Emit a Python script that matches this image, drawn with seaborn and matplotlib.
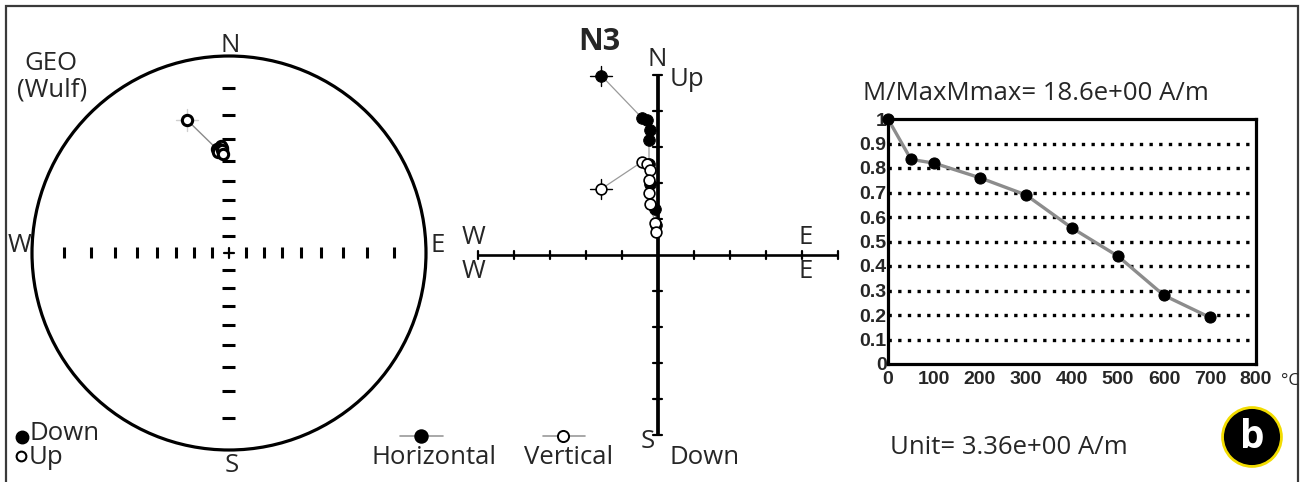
import numpy as np
import matplotlib
matplotlib.use("Agg")
import matplotlib.pyplot as plt
from matplotlib.patches import Circle, Rectangle
import pandas as pd
import seaborn as sns

# Thermal demagnetisation of specimen N3
steps = [0, 50, 100, 200, 300, 400, 500, 600, 700]                   # °C
m_norm = [1.0, 0.835, 0.82, 0.76, 0.69, 0.555, 0.44, 0.28, 0.19]     # M / Mmax
dec = [342.5, 353.4, 355.4, 356.4, 355.5, 354.4, 353.6, 356.3, 356.3]  # declination, deg
inc = [-19.4, -34.1, -34.0, -34.0, -33.0, -33.9, -35.5, -34.8, -36.5]  # inclination, deg
M_MAX = 18.6     # A/m
UNIT = 3.36      # A/m per Zijderveld tick

temp_ticks = [0, 100, 200, 300, 400, 500, 600, 700, 800]
ratio_ticks = [0, 0.1, 0.2, 0.3, 0.4, 0.5, 0.6, 0.7, 0.8, 0.9, 1.0]
ratio_labels = ["0", "0.1", "0.2", "0.3", "0.4", "0.5", "0.6", "0.7", "0.8", "0.9", "1"]

W, H = 1307, 482
sns.set_theme(style="white")
plt.rcParams["font.family"] = ["Open Sans", "DejaVu Sans"]

df = pd.DataFrame({"T": steps, "m": m_norm, "dec": dec, "inc": inc})
df["M"] = df["m"] * M_MAX
d, i = np.radians(df["dec"]), np.radians(df["inc"])
df["hor"] = df["M"] * np.cos(i)
df["east"] = df["hor"] * np.sin(d)
df["north"] = df["hor"] * np.cos(d)
df["up"] = -df["M"] * np.sin(i)
# Wulff (equal-angle) projection of the directions
r_w = np.tan(np.radians((90 - np.abs(df["inc"])) / 2))
df["sx"] = r_w * np.sin(d)
df["sy"] = r_w * np.cos(d)

fig = plt.figure(figsize=(W / 100, H / 100), dpi=100)
FS = 18.5


def px_axes(left, top, width, height, cx=None, cy=None, scale=None):
    ax = fig.add_axes([left / W, 1 - (top + height) / H, width / W, height / H])
    if scale is not None:
        ax.set_xlim((left - cx) / scale, (left + width - cx) / scale)
        ax.set_ylim((cy - (top + height)) / scale, (cy - top) / scale)
        ax.set_axis_off()
    return ax


def ftxt(x, y, s, **kw):
    kw.setdefault("fontsize", FS)
    kw.setdefault("ha", "center")
    kw.setdefault("va", "center")
    fig.text(x / W, 1 - y / H, s, **kw)


# ---------------- stereonet ----------------
R = 197.0
CX, CY = 229, 253
ax1 = px_axes(0, 20, 460, 462, CX, CY, R)
ax1.add_patch(Circle((0, 0), 1, fill=False, ec="black", lw=2.3))
tick_r = [np.tan(np.radians((90 - k) / 2)) for k in range(10, 90, 10)]
for r in tick_r:
    for sgn in (-1, 1):
        ax1.plot([sgn * r, sgn * r], [-5.5 / R, 5.5 / R], color="black", lw=2.2, solid_capstyle="butt")
        ax1.plot([-6.5 / R, 6.5 / R], [sgn * r, sgn * r], color="black", lw=2.2, solid_capstyle="butt")
ax1.plot([-5 / R, 5 / R], [0, 0], color="black", lw=1.6)
ax1.plot([0, 0], [-5 / R, 5 / R], color="black", lw=1.6)
ax1.plot(df["sx"], df["sy"], color="#8a8a8a", lw=1.0, zorder=2)
x0, y0 = df["sx"].iloc[0], df["sy"].iloc[0]
ax1.plot([x0 - 11 / R, x0 + 11 / R], [y0, y0], color="#cfcfcf", lw=1.0, zorder=2)
ax1.plot([x0, x0], [y0 - 11 / R, y0 + 11 / R], color="#cfcfcf", lw=1.0, zorder=2)
down = df[df["inc"] >= 0]
upw = df[df["inc"] < 0]
sns.scatterplot(x=upw["sx"], y=upw["sy"], ax=ax1, s=55, facecolor="white",
                edgecolor="black", linewidth=2.2, zorder=3)
if len(down):
    sns.scatterplot(x=down["sx"], y=down["sy"], ax=ax1, s=55, color="black", zorder=3)
ax1.set_xlim((0 - CX) / R, (460 - CX) / R)
ax1.set_ylim((CY - 482) / R, (CY - 20) / R)
ax1.set_aspect("equal", adjustable="box")

ftxt(230, 45, "N")
ftxt(232, 466, "S")
ftxt(19, 246, "W")
ftxt(438, 246, "E")
ftxt(51, 64, "GEO")
ftxt(52, 90, "(Wulf)")
# Down / Up key
fig.add_artist(plt.Line2D([22 / W], [1 - 437 / H], marker="o", ms=9, color="black", mfc="black"))
fig.add_artist(plt.Line2D([21 / W], [1 - 456 / H], marker="o", ms=7, color="black", mfc="white", mew=1.5))
ftxt(29, 434, "Down", ha="left")
ftxt(29, 458, "Up", ha="left")

# ---------------- Zijderveld diagram ----------------
S = 36.0 / UNIT   # px per A/m
ZX, ZY = 658, 255
ax2 = px_axes(460, 30, 400, 445, ZX, ZY, S)
ext = 5 * UNIT
ax2.plot([-ext, ext], [0, 0], color="black", lw=1.9, solid_capstyle="butt")
ax2.plot([0, 0], [-ext, ext], color="black", lw=2.7, solid_capstyle="butt")
for k in range(1, 6):
    for sgn in (-1, 1):
        v = sgn * k * UNIT
        ax2.plot([v, v], [-4 / S, 4 / S], color="black", lw=1.6)
        ax2.plot([-4.5 / S, 4.5 / S], [v, v], color="black", lw=1.6)

ax2.plot(df["east"], df["north"], color="#9a9a9a", lw=0.9, zorder=2)
ax2.plot(df["east"], df["up"], color="#9a9a9a", lw=0.9, zorder=2)
for yy in (df["north"].iloc[0], df["up"].iloc[0]):
    xx = df["east"].iloc[0]
    ax2.plot([xx - 11 / S, xx + 11 / S], [yy, yy], color="black", lw=1.0, zorder=2)
    ax2.plot([xx, xx], [yy - 10 / S, yy + 10 / S], color="black", lw=1.0, zorder=2)
sns.scatterplot(data=df, x="east", y="north", ax=ax2, s=70, color="black",
                edgecolor="black", zorder=3)
sns.scatterplot(data=df, x="east", y="up", ax=ax2, s=60, facecolor="white",
                edgecolor="black", linewidth=1.2, zorder=4)
ax2.set_xlim((460 - ZX) / S, (860 - ZX) / S)
ax2.set_ylim((ZY - 475) / S, (ZY - 30) / S)
ax2.set_xlabel("")
ax2.set_ylabel("")

ftxt(599, 42, "N3", fontweight="bold", fontsize=22)
ftxt(657, 59, "N")
ftxt(670, 80, "Up", ha="left")
ftxt(474, 238, "W")
ftxt(474, 271, "W")
ftxt(806, 238, "E")
ftxt(806, 271, "E")
ftxt(648, 441, "S")
ftxt(669, 458, "Down", ha="left")
# projection key
for x_l, x_r, xm, filled in ((400, 443, 421, True), (543, 585, 563, False)):
    fig.add_artist(plt.Line2D([x_l / W, x_r / W], [1 - 436 / H] * 2, color="#9a9a9a", lw=1.2))
    fig.add_artist(plt.Line2D([xm / W], [1 - 436 / H], marker="o", ms=9 if filled else 8,
                              color="black", mfc="black" if filled else "white", mew=1.4))
ftxt(434, 458, "Horizontal")
ftxt(569, 458, "Vertical")

# ---------------- intensity decay ----------------
ax3 = px_axes(888, 119, 368, 245)
for yv in ratio_ticks[1:-1]:
    ax3.axhline(yv, color="black", lw=2.4, ls=(0, (1, 1.9)), zorder=1)
sns.lineplot(data=df, x="T", y="m", ax=ax3, color="#8c8c8c", lw=2.4, marker="o",
             markersize=8, markerfacecolor="black", markeredgecolor="black",
             clip_on=False, zorder=5)
ax3.set_xlim(0, 800)
ax3.set_ylim(0, 1)
ax3.set_xticks(temp_ticks)
ax3.set_yticks(ratio_ticks)
ax3.set_yticklabels(ratio_labels)
ax3.set_xlabel("")
ax3.set_ylabel("")
ax3.tick_params(axis="y", length=0, pad=1)
ax3.tick_params(axis="x", length=0, pad=5)
for lab in ax3.get_xticklabels() + ax3.get_yticklabels():
    lab.set_fontfamily("Liberation Sans")
    lab.set_fontweight("bold")
    lab.set_fontsize(14)
for sp in ax3.spines.values():
    sp.set_color("black")
    sp.set_linewidth(2.3)
ax3.grid(False)

ftxt(863, 94, f"M/MaxMmax= {M_MAX:.1f}e+00 A/m", ha="left")
ftxt(1290, 381, "°C", fontsize=12.5)
ftxt(890, 447, f"Unit= {UNIT:.2f}e+00 A/m", ha="left")

# panel badge
axb = px_axes(1220, 405, 64, 64)
axb.set_xlim(0, 1)
axb.set_ylim(0, 1)
axb.set_axis_off()
axb.add_patch(Circle((0.5, 0.5), 0.46, fc="black", ec="#f2dc00", lw=2.0))
axb.text(0.5, 0.5, "b", color="white", fontsize=28, fontweight="bold",
         ha="center", va="center", fontfamily="Open Sans")

# outer frame
fig.add_artist(Rectangle((6 / W, -0.02), 1292 / W, 1 - 6 / H + 0.02, transform=fig.transFigure,
                         fill=False, ec="#3a3a3a", lw=1.6))

fig.savefig("out.png", dpi=100)
